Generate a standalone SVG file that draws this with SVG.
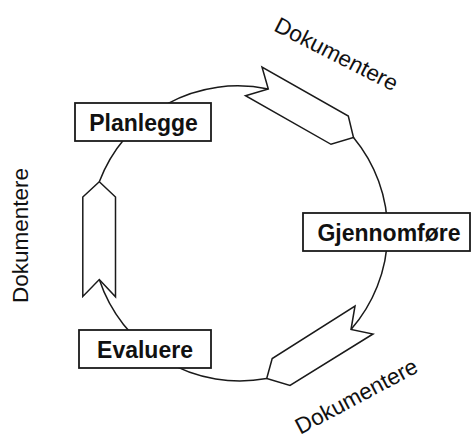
<svg xmlns="http://www.w3.org/2000/svg" width="471" height="441" viewBox="0 0 471 441">
<style>
.arc{fill:none;stroke:#1a1a1a;stroke-width:1.5}
.arr{fill:#fff;stroke:#1a1a1a;stroke-width:1.5;stroke-linejoin:miter}
.box{fill:#fff;stroke:#1a1a1a;stroke-width:1.8}
.lbl{font-family:"Liberation Sans",Arial,sans-serif;font-weight:bold;font-size:23px;fill:#111;text-anchor:middle}
.doc{font-family:"Liberation Sans",Arial,sans-serif;font-size:22.5px;fill:#111;text-anchor:middle}
</style>
<rect width="471" height="441" fill="#fff"/>
<g id="connectors">
<path class="arc" d="M99.3,181.7 A148,148 0 0 1 268.3,89"/>
<path class="arc" d="M353.5,137.5 A148,148 0 0 1 351,329.5"/>
<path class="arc" d="M266.7,378.5 A148,148 0 0 1 99.3,279.5"/>
<polygon class="arr" points="262,67 268.3,89 245.5,95.7 331,144.3 353.5,137.5 348.3,116"/>
<polygon class="arr" points="99.3,181.7 115.5,197 115.5,296.8 99.3,279.5 82.8,296.5 82.8,197"/>
<polygon class="arr" points="355,306 351,329.5 373,334 290,385.5 266.7,378.5 272.2,358.5"/>
</g>
<g id="doc-top"><text class="doc" transform="translate(333,61) rotate(27)">Dokumentere</text></g>
<g id="doc-left"><text class="doc" transform="translate(28,235.5) rotate(-90)">Dokumentere</text></g>
<g id="doc-bottom"><text class="doc" transform="translate(360,403) rotate(-28)">Dokumentere</text></g>
<g id="planlegge">
<rect class="box" x="75" y="103" width="136" height="38"/>
<text class="lbl" x="143.5" y="131">Planlegge</text>
</g>
<g id="gjennomfore">
<rect class="box" x="303" y="213" width="167" height="38"/>
<text class="lbl" x="389" y="240.5">Gjennomføre</text>
</g>
<g id="evaluere">
<rect class="box" x="79" y="330" width="132" height="38"/>
<text class="lbl" x="145" y="358">Evaluere</text>
</g>
</svg>
